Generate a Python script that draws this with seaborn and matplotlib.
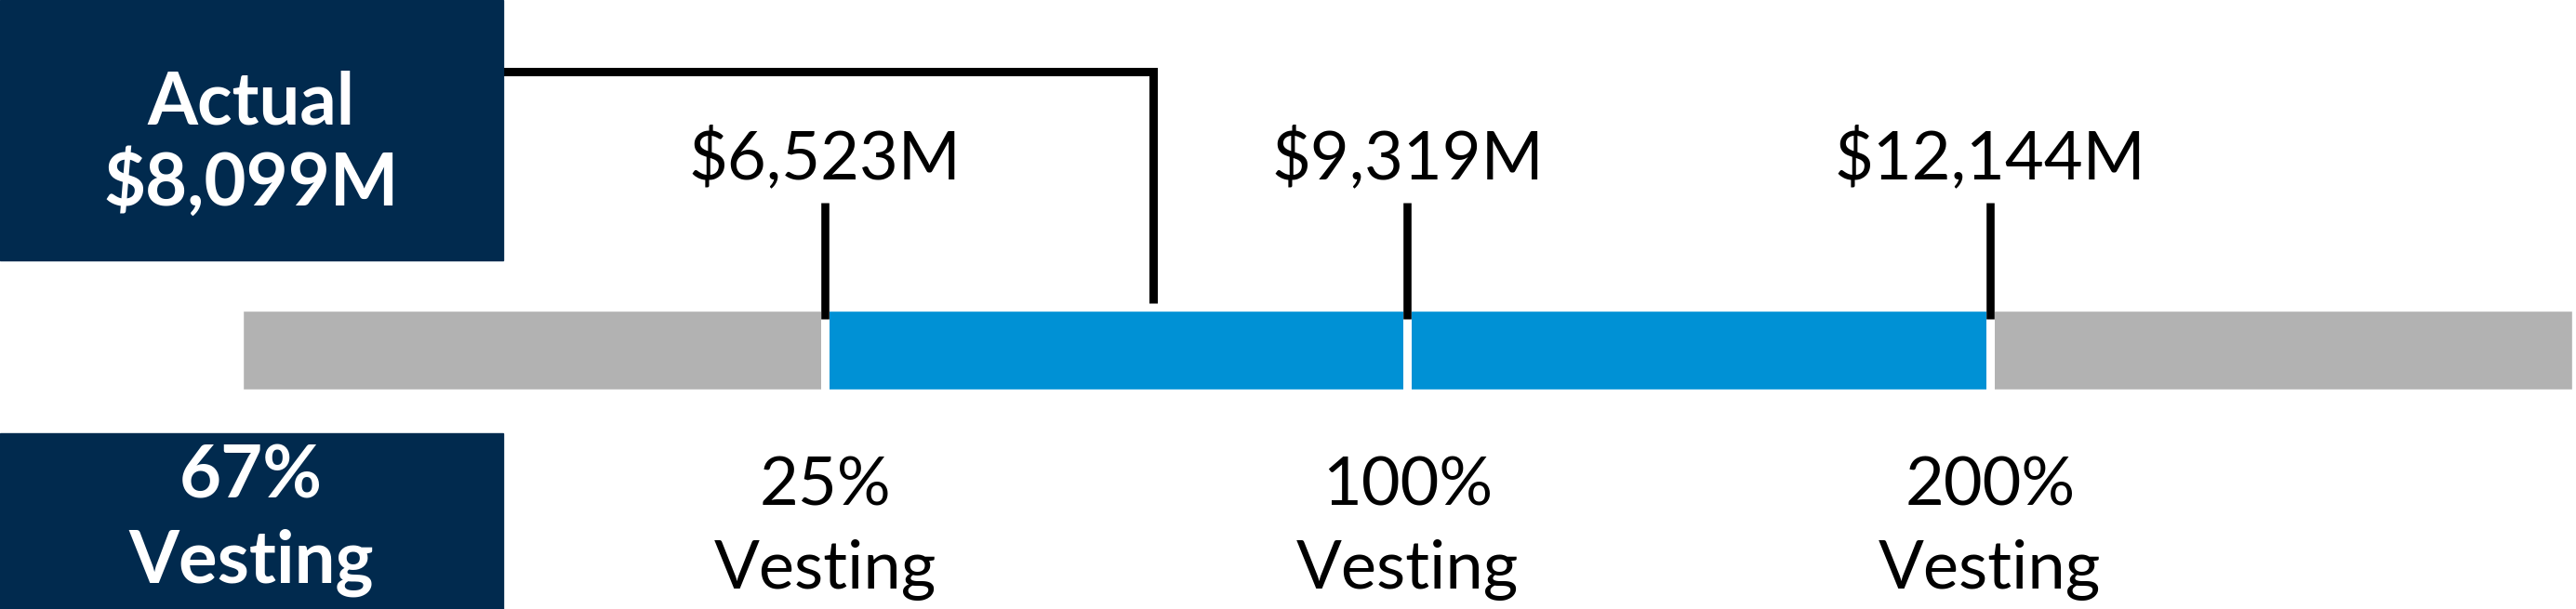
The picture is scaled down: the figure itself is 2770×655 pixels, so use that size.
import numpy as np
import matplotlib
matplotlib.use("Agg")
import matplotlib.pyplot as plt
from matplotlib.patches import Rectangle
import seaborn as sns

# data
threshold_values = [6523, 9319, 12144]
threshold_labels = ["$6,523M", "$9,319M", "$12,144M"]
vesting_pct = ["25%", "100%", "200%"]
threshold_pos = [1, 2, 3]          # equal spacing on the scale
segment_ends = [4, 3, 2, 1]        # drawn longest first, overlaid
segment_colors = ["#b2b2b2", "#0091d5", "#0091d5", "#b2b2b2"]
actual_value = 8099
actual_label = ["Actual", "$8,099M"]
actual_vesting = ["67%", "Vesting"]

NAVY = "#012a4e"
W, H = 2770, 655
unit_px = 626.25
bar_left_px = 261

sns.set_theme(style="white")
plt.rcParams["font.family"] = ["Lato", "DejaVu Sans"]


def fx(px):
    # pixel column -> scale position
    return (px - bar_left_px) / unit_px


def fy(py):
    # pixel row -> axes fraction
    return 1 - py / H


fig = plt.figure(figsize=(W / 100, H / 100), dpi=100)
ax = fig.add_axes([0, 0, 1, 1])

for end, col in zip(segment_ends, segment_colors):
    sns.barplot(x=[end], y=["track"], orient="h", color=col, saturation=1,
                width=0.8, errorbar=None, ax=ax)

ax.set_xlim(fx(0), fx(W))
ppu = 84.5 / 0.8
ax.set_ylim((H - 376.25) / ppu, -376.25 / ppu)
ax.axis("off")

trans = ax.get_xaxis_transform()

# white gaps between segments
ax.vlines(threshold_pos, -0.45, 0.45, color="white", lw=6.5, zorder=3)

# threshold ticks and labels
for pos, lab, pct in zip(threshold_pos, threshold_labels, vesting_pct):
    ax.plot([pos, pos], [fy(218), fy(343)], transform=trans, color="black",
            lw=6.2, solid_capstyle="butt", zorder=4)
    ax.text(pos, fy(192), lab, transform=trans, ha="center", va="baseline",
            fontsize=52, color="black")
    ax.text(pos, fy(543), pct, transform=trans, ha="center", va="baseline",
            fontsize=52, color="black")
    ax.text(pos, fy(633), "Vesting", transform=trans, ha="center", va="baseline",
            fontsize=52, color="black")

# actual marker bracket
actual_pos = np.interp(actual_value, threshold_values, threshold_pos)
box_right = fx(541)
ax.plot([box_right, actual_pos, actual_pos], [fy(76.5), fy(76.5), fy(326)],
        transform=trans, color="black", lw=6.5, solid_joinstyle="miter",
        solid_capstyle="butt", zorder=4)

# navy boxes
ax.add_patch(Rectangle((0, fy(280)), 541 / W, 280 / H, transform=ax.transAxes,
                       color=NAVY, zorder=5, clip_on=False))
ax.add_patch(Rectangle((0, 0), 541 / W, 189 / H, transform=ax.transAxes,
                       color=NAVY, zorder=5, clip_on=False))

cx = 270 / W
for txt, base in zip(actual_label, [133, 221]):
    ax.text(cx, fy(base), txt, transform=ax.transAxes, ha="center", va="baseline",
            fontsize=56, fontweight="bold", color="white", zorder=6)
for txt, base in zip(actual_vesting, [535, 627]):
    ax.text(cx, fy(base), txt, transform=ax.transAxes, ha="center", va="baseline",
            fontsize=56, fontweight="bold", color="white", zorder=6)

fig.savefig("out.png", dpi=100)
